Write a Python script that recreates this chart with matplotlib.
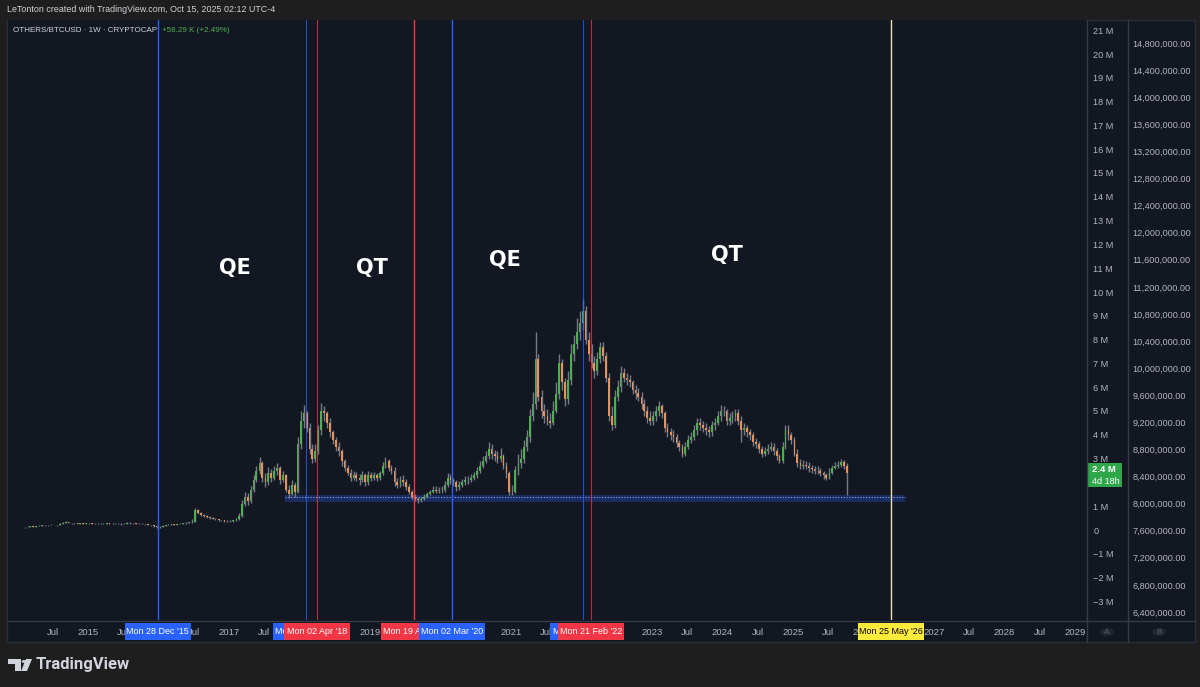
import matplotlib
matplotlib.use("Agg")
import matplotlib.pyplot as plt
import matplotlib.dates as mdates
from matplotlib.patches import Rectangle, Polygon, Circle
from matplotlib.lines import Line2D
from matplotlib.transforms import blended_transform_factory
import numpy as np
import pandas as pd

plt.rcParams['font.family'] = ['Liberation Sans', 'DejaVu Sans']

# OTHERS/BTCUSD, semi-monthly candles (values in millions)
c2014 = [0.12, 0.14, 0.15, 0.13, 0.16, 0.18, 0.20, 0.19, 0.20, 0.22, 0.21, 0.20, 0.25, 0.30, 0.34, 0.30, 0.28, 0.28, 0.27, 0.28, 0.27, 0.28]
h2014 = [0.14, 0.16, 0.17, 0.16, 0.18, 0.20, 0.22, 0.21, 0.22, 0.24, 0.23, 0.23, 0.28, 0.33, 0.38, 0.35, 0.31, 0.30, 0.29, 0.30, 0.29, 0.30]
l2014 = [0.10, 0.11, 0.13, 0.12, 0.12, 0.15, 0.17, 0.17, 0.18, 0.19, 0.19, 0.18, 0.19, 0.24, 0.29, 0.28, 0.26, 0.26, 0.25, 0.26, 0.25, 0.26]

c2015 = [0.28, 0.27, 0.26, 0.27, 0.26, 0.27, 0.28, 0.27, 0.26, 0.27, 0.26, 0.25, 0.27, 0.30, 0.29, 0.28, 0.27, 0.27, 0.26, 0.24, 0.22, 0.20, 0.15, 0.12]
h2015 = [0.30, 0.30, 0.29, 0.29, 0.29, 0.29, 0.30, 0.30, 0.28, 0.29, 0.29, 0.28, 0.29, 0.33, 0.32, 0.30, 0.29, 0.29, 0.28, 0.27, 0.25, 0.23, 0.21, 0.16]
l2015 = [0.26, 0.25, 0.24, 0.25, 0.24, 0.25, 0.26, 0.25, 0.24, 0.25, 0.24, 0.23, 0.24, 0.26, 0.27, 0.26, 0.25, 0.25, 0.24, 0.22, 0.20, 0.18, 0.13, 0.10]

c2016 = [0.14, 0.18, 0.20, 0.22, 0.24, 0.23, 0.25, 0.27, 0.28, 0.30, 0.32, 0.35, 0.85, 0.72, 0.62, 0.60, 0.55, 0.50, 0.48, 0.45, 0.42, 0.40, 0.38, 0.36]
h2016 = [0.17, 0.20, 0.23, 0.24, 0.26, 0.26, 0.27, 0.29, 0.31, 0.33, 0.35, 0.45, 0.92, 0.88, 0.75, 0.66, 0.62, 0.57, 0.53, 0.50, 0.47, 0.44, 0.42, 0.40]
l2016 = [0.10, 0.13, 0.16, 0.19, 0.21, 0.21, 0.21, 0.24, 0.25, 0.27, 0.29, 0.30, 0.33, 0.68, 0.58, 0.55, 0.52, 0.47, 0.45, 0.42, 0.39, 0.37, 0.35, 0.33]

c2017 = [0.36, 0.40, 0.45, 0.60, 1.10, 1.40, 1.20, 1.70, 2.10, 2.50, 2.80, 2.20, 2.00, 2.40, 2.20, 2.50, 2.60, 2.10, 2.30, 1.70, 1.50, 1.90, 1.60, 3.60]
h2017 = [0.40, 0.44, 0.50, 0.70, 1.25, 1.60, 1.55, 1.85, 2.30, 2.70, 3.05, 2.90, 2.40, 2.65, 2.55, 2.70, 2.80, 2.70, 2.50, 2.35, 1.90, 2.10, 2.00, 3.90]
l2017 = [0.32, 0.34, 0.37, 0.42, 0.55, 1.00, 1.05, 1.15, 1.60, 2.00, 2.35, 2.00, 1.80, 1.90, 2.00, 2.10, 2.30, 1.95, 2.00, 1.60, 1.35, 1.45, 1.40, 1.55]

c2018 = [4.60, 4.90, 4.30, 3.40, 3.00, 3.30, 4.20, 5.00, 4.90, 4.50, 4.10, 3.80, 3.50, 3.30, 2.90, 2.60, 2.40, 2.20, 2.30, 2.20, 2.10, 2.30, 2.00, 2.30]
h2018 = [5.00, 5.25, 5.00, 4.50, 3.60, 3.60, 4.40, 5.35, 5.20, 5.00, 4.70, 4.20, 3.90, 3.70, 3.40, 3.00, 2.75, 2.55, 2.50, 2.45, 2.35, 2.50, 2.40, 2.50]
l2018 = [3.40, 4.30, 4.10, 3.20, 2.80, 2.85, 3.20, 4.00, 4.60, 4.30, 3.90, 3.60, 3.30, 3.10, 2.70, 2.50, 2.30, 2.05, 2.10, 2.05, 1.90, 2.00, 1.85, 1.90]

c2019 = [2.20, 2.30, 2.20, 2.40, 2.70, 2.90, 2.60, 2.50, 2.00, 1.90, 2.10, 2.00, 1.80, 1.60, 1.40, 1.30, 1.25, 1.30, 1.40, 1.50, 1.60, 1.70, 1.65, 1.70]
h2019 = [2.45, 2.45, 2.40, 2.50, 2.85, 3.05, 3.00, 2.75, 2.65, 2.20, 2.25, 2.30, 2.15, 1.95, 1.70, 1.50, 1.40, 1.40, 1.50, 1.60, 1.70, 1.85, 1.85, 1.80]
l2019 = [2.05, 2.10, 2.05, 2.10, 2.30, 2.60, 2.50, 2.35, 1.85, 1.75, 1.80, 1.85, 1.70, 1.50, 1.30, 1.20, 1.15, 1.18, 1.25, 1.35, 1.45, 1.55, 1.55, 1.55]

c2020 = [1.70, 1.90, 2.20, 2.10, 2.00, 1.80, 1.90, 2.00, 2.10, 2.10, 2.20, 2.30, 2.50, 2.70, 2.90, 3.10, 3.40, 3.20, 3.10, 3.00, 3.10, 2.70, 2.40, 1.60]
h2020 = [1.85, 2.05, 2.40, 2.35, 2.20, 2.10, 2.05, 2.15, 2.25, 2.25, 2.35, 2.45, 2.65, 2.90, 3.10, 3.30, 3.70, 3.60, 3.35, 3.30, 3.45, 3.20, 2.85, 2.50]
l2020 = [1.55, 1.60, 1.80, 1.95, 1.85, 1.65, 1.70, 1.80, 1.90, 1.95, 2.00, 2.10, 2.20, 2.40, 2.60, 2.80, 3.00, 3.00, 2.90, 2.80, 2.85, 2.55, 2.20, 1.45]

c2021 = [1.60, 2.50, 2.80, 3.00, 3.50, 3.90, 4.80, 5.30, 7.20, 5.60, 5.00, 4.80, 4.60, 4.50, 5.00, 5.70, 7.00, 6.20, 5.50, 6.30, 7.40, 7.80, 8.30, 8.70]
h2021 = [1.90, 2.70, 3.20, 3.40, 3.80, 4.20, 5.10, 5.80, 8.30, 7.40, 5.90, 5.30, 5.10, 4.90, 5.40, 6.20, 7.40, 7.20, 6.40, 6.70, 7.80, 8.20, 8.90, 9.20]
l2021 = [1.45, 1.55, 2.30, 2.60, 2.80, 3.30, 3.70, 4.60, 5.10, 5.40, 4.70, 4.50, 4.40, 4.30, 4.40, 4.90, 5.50, 5.90, 5.20, 5.30, 6.10, 7.10, 7.60, 8.00]

c2022 = [9.20, 8.00, 7.40, 7.00, 6.70, 7.20, 7.70, 7.30, 6.40, 4.80, 4.40, 5.60, 6.00, 6.60, 6.40, 6.30, 6.20, 5.90, 5.75, 5.60, 5.30, 5.00, 4.70, 4.60]
h2022 = [9.70, 9.40, 8.30, 7.80, 7.30, 7.50, 7.90, 7.90, 7.50, 6.60, 5.20, 5.90, 6.30, 6.90, 6.80, 6.60, 6.50, 6.30, 6.10, 5.95, 5.80, 5.50, 5.20, 5.00]
l2022 = [8.40, 7.80, 7.10, 6.80, 6.40, 6.50, 7.00, 7.10, 6.20, 4.60, 4.20, 4.30, 5.40, 5.80, 6.20, 6.10, 6.00, 5.70, 5.50, 5.40, 5.10, 4.80, 4.50, 4.40]

c2023 = [4.80, 5.00, 5.20, 4.90, 4.30, 4.10, 4.00, 3.90, 3.65, 3.50, 3.20, 3.50, 3.80, 3.90, 4.20, 4.50, 4.40, 4.30, 4.20, 4.10, 4.40, 4.50, 4.80, 5.00]
h2023 = [5.00, 5.20, 5.40, 5.30, 5.00, 4.50, 4.30, 4.20, 4.05, 3.80, 3.60, 3.70, 4.00, 4.10, 4.40, 4.70, 4.70, 4.60, 4.50, 4.35, 4.60, 4.70, 5.00, 5.25]
l2023 = [4.40, 4.60, 4.80, 4.70, 4.10, 3.90, 3.80, 3.70, 3.50, 3.30, 3.05, 3.10, 3.40, 3.65, 3.80, 4.00, 4.20, 4.10, 4.00, 3.90, 3.95, 4.20, 4.40, 4.60]

c2024 = [5.00, 4.60, 4.70, 4.80, 4.90, 4.60, 4.20, 4.30, 4.10, 4.00, 3.70, 3.60, 3.40, 3.20, 3.30, 3.40, 3.50, 3.30, 3.10, 2.90, 3.50, 4.20, 4.00, 3.80]
h2024 = [5.20, 5.10, 4.90, 5.00, 5.10, 5.10, 4.80, 4.50, 4.40, 4.25, 4.10, 3.85, 3.75, 3.55, 3.50, 3.60, 3.70, 3.65, 3.45, 3.20, 3.70, 4.40, 4.40, 4.10]
l2024 = [4.80, 4.40, 4.40, 4.50, 4.60, 4.40, 3.70, 4.00, 3.90, 3.80, 3.55, 3.45, 3.25, 3.05, 3.10, 3.20, 3.30, 3.15, 2.95, 2.80, 2.80, 3.40, 3.80, 3.60]

c2025 = [3.20, 2.80, 2.70, 2.75, 2.70, 2.60, 2.55, 2.50, 2.50, 2.40, 2.30, 2.20, 2.40, 2.60, 2.70, 2.75, 2.85, 2.70, 2.40]
h2025 = [3.90, 3.40, 3.00, 2.95, 2.90, 2.85, 2.75, 2.70, 2.70, 2.60, 2.50, 2.40, 2.60, 2.75, 2.85, 2.90, 3.00, 2.95, 2.80]
l2025 = [3.10, 2.65, 2.55, 2.55, 2.55, 2.45, 2.40, 2.35, 2.35, 2.25, 2.15, 2.10, 2.15, 2.35, 2.55, 2.60, 2.65, 2.55, 1.47]

first_open = 0.11

# vertical markers: date, colour, axis label, bright?
marks = [
    ('2015-12-28', '#2962ff', "Mon 28 Dec '15", True),
    ('2018-02-05', '#2962ff', "Mon 05 Feb '18", False),
    ('2018-04-02', '#f23645', "Mon 02 Apr '18", False),
    ('2019-08-19', '#f23645', "Mon 19 Aug '19", True),
    ('2020-03-02', '#2962ff', "Mon 02 Mar '20", True),
    ('2022-01-10', '#2962ff', "Mon 10 Jan '22", False),
    ('2022-02-21', '#f23645', "Mon 21 Feb '22", False),
    ('2026-05-25', '#ffeb3b', "Mon 25 May '26", True),
]
line_col = {'#ffeb3b': '#e9e2a8'}

phases = ['QE', 'QT', 'QE', 'QT']
phase_pos = [(235, 268), (372, 268), (505, 260), (727, 255)]

zone_start, zone_end = '2017-10-16', '2026-08-03'
zone_lo, zone_hi = 1.18, 1.47

W, H = 1200, 687
BG = '#131722'
TXT = '#b2b5be'
SEP = '#363a45'


def px(x, y):
    return x / W, 1 - y / H


fig = plt.figure(figsize=(12, 6.87), dpi=100)
fig.patch.set_facecolor('#1e1e1e')

# chart panel background
fig.add_artist(Rectangle(px(7, 642), 1188 / W, 622 / H, transform=fig.transFigure,
                         fc=BG, ec='#2a2e39', lw=1, zorder=-5))

ax = fig.add_axes([8 / W, 1 - 620 / H, 1079 / W, 600 / H])
ax.set_facecolor(BG)
for s in ax.spines.values():
    s.set_visible(False)

close = np.array(c2014 + c2015 + c2016 + c2017 + c2018 + c2019 + c2020 + c2021 + c2022 + c2023 + c2024 + c2025)
high = np.array(h2014 + h2015 + h2016 + h2017 + h2018 + h2019 + h2020 + h2021 + h2022 + h2023 + h2024 + h2025)
low = np.array(l2014 + l2015 + l2016 + l2017 + l2018 + l2019 + l2020 + l2021 + l2022 + l2023 + l2024 + l2025)
opn = np.concatenate([[first_open], close[:-1]])
dates = pd.date_range('2014-02-01', periods=len(close), freq='SMS')
x = mdates.date2num(dates) + 7
up = close >= opn

ax.vlines(x, low, high, color='#787b86', lw=1.0, zorder=3)
ax.bar(x[up], (close - opn)[up], bottom=opn[up], width=9, color='#4caf50', zorder=4)
ax.bar(x[~up], (opn - close)[~up], bottom=close[~up], width=9, color='#e8915b', zorder=4)

# support zone
z0, z1 = mdates.date2num(pd.Timestamp(zone_start)), mdates.date2num(pd.Timestamp(zone_end))
ax.add_patch(Rectangle((z0, zone_lo), z1 - z0, zone_hi - zone_lo, fc='#2962ff', alpha=0.28, ec='none', zorder=2))
ax.plot([z0, z1], [(zone_lo + zone_hi) / 2 + 0.05] * 2, color='#8fa8f0', lw=0.8, ls=(0, (1, 1.5)), zorder=2)

# axes limits (pixel calibrated)
base = mdates.date2num(pd.Timestamp('2015-01-01'))
ppd = 70.5 / 365.25
ax.set_xlim(base + (8 - 88) / ppd, base + (1087 - 88) / ppd)
ax.set_ylim((530 - 620) / 23.8, (530 - 20) / 23.8)

# x ticks (skip the ones fully hidden under the marker labels)
hidden = {(2016, 1), (2018, 1), (2018, 7), (2019, 7), (2020, 1), (2020, 7), (2022, 1)}
tick_dates, tick_labels = [], []
for yr in range(2014, 2030):
    for m in (1, 7):
        d = pd.Timestamp(yr, m, 1)
        if pd.Timestamp('2014-06-01') < d < pd.Timestamp('2029-02-01') and (yr, m) not in hidden:
            tick_dates.append(mdates.date2num(d))
            tick_labels.append(str(yr) if m == 1 else 'Jul')
ax.set_xticks(tick_dates)
ax.set_xticklabels(tick_labels)
ax.tick_params(axis='x', length=0, pad=6, labelsize=6.8, labelcolor=TXT)

# right scale B
ax2 = ax.twinx()
for s in ax2.spines.values():
    s.set_visible(False)
ax2.set_ylim(6.4e6 - 8 / 67.74 * 1e6, 14.8e6 + 23 / 67.74 * 1e6)
bt = np.arange(6.4e6, 14.81e6, 4e5)
ax2.set_yticks(bt)
ax2.set_yticklabels([f'{v:,.2f}' for v in bt])
ax2.tick_params(axis='y', length=0, pad=33, labelsize=6.6, labelcolor=TXT)

# right scale A
yt = list(range(-3, 22))
ax.yaxis.tick_right()
ax.set_yticks(yt)
ax.set_yticklabels(['0' if v == 0 else (f'\u2212{-v} M' if v < 0 else f'{v} M') for v in yt])
ax.tick_params(axis='y', length=0, pad=4.5, labelsize=6.6, labelcolor=TXT)

# vertical lines and their axis labels
blend = blended_transform_factory(ax.transData, fig.transFigure)
for i, (d, col, lab, bright) in enumerate(marks):
    xd = mdates.date2num(pd.Timestamp(d))
    ax.axvline(xd, color=line_col.get(col, col), lw=1.0 if bright else 0.8,
               alpha=1.0 if bright else 0.75, zorder=5)
    ax.add_patch(Rectangle((xd - 171, 1 - 640 / H), 342, 17 / H, transform=blend,
                           fc=col, ec='none', clip_on=False, zorder=10 + 2 * i))
    ax.text(xd, 1 - 631.5 / H, lab, transform=blend, ha='center', va='center',
            fontsize=6.5, color='black' if col == '#ffeb3b' else 'white',
            clip_on=False, zorder=11 + 2 * i)

# phase annotations
for t, (px_, py_) in zip(phases, phase_pos):
    fig.text(*px(px_, py_), t, color='white', fontsize=15, fontweight='bold',
             family='DejaVu Sans', ha='center', va='center')

# separators
for xs in (1087, 1128):
    fig.add_artist(Line2D([xs / W] * 2, [1 - 20 / H, 1 - 642 / H], color=SEP, lw=1))
fig.add_artist(Line2D([7 / W, 1195 / W], [1 - 621 / H] * 2, color=SEP, lw=1))

# last price tag
fig.add_artist(Rectangle(px(1087, 487), 35 / W, 24 / H, transform=fig.transFigure, fc='#2ea84a', ec='none'))
fig.text(*px(1092, 469), '2.4 M', color='white', fontsize=6.8, fontweight='bold', va='center')
fig.text(*px(1092, 481), '4d 18h', color='white', fontsize=6.5, va='center')

# A / B buttons
for cx, lab in ((1107, 'A'), (1159, 'B')):
    fig.add_artist(Circle(px(cx, 632), 7 / W, transform=fig.transFigure, fc='#22262f', ec='none'))
    fig.text(*px(cx, 632), lab, color='#5d606b', fontsize=6, ha='center', va='center')

# header
fig.text(*px(7, 10), 'LeTonton created with TradingView.com, Oct 15, 2025 02:12 UTC-4',
         color='#d1d4dc', fontsize=6.4, va='center')
fig.text(*px(13, 31), 'OTHERS/BTCUSD \u00b7 1W \u00b7 CRYPTOCAP', color='#d1d4dc', fontsize=5.8, va='center')
fig.text(*px(162, 31), '+58.29 K (+2.49%)', color='#4caf50', fontsize=5.8, va='center')

# footer logo
logo = '#d1d4dc'
fig.add_artist(Polygon([px(8, 659), px(21, 659), px(21, 671), px(15, 671), px(15, 664), px(8, 664)],
                       closed=True, transform=fig.transFigure, fc=logo, ec='none'))
fig.add_artist(Circle(px(24, 661.5), 2.4 / W, transform=fig.transFigure, fc=logo, ec='none'))
fig.add_artist(Polygon([px(26, 659), px(32, 659), px(27, 671), px(21, 671)], closed=True,
                       transform=fig.transFigure, fc=logo, ec='none'))
fig.text(*px(36, 665), 'TradingView', color=logo, fontsize=12, family=['Roboto', 'DejaVu Sans'],
         fontweight='bold', va='center')

fig.savefig('out.png', dpi=100, facecolor=fig.get_facecolor())
